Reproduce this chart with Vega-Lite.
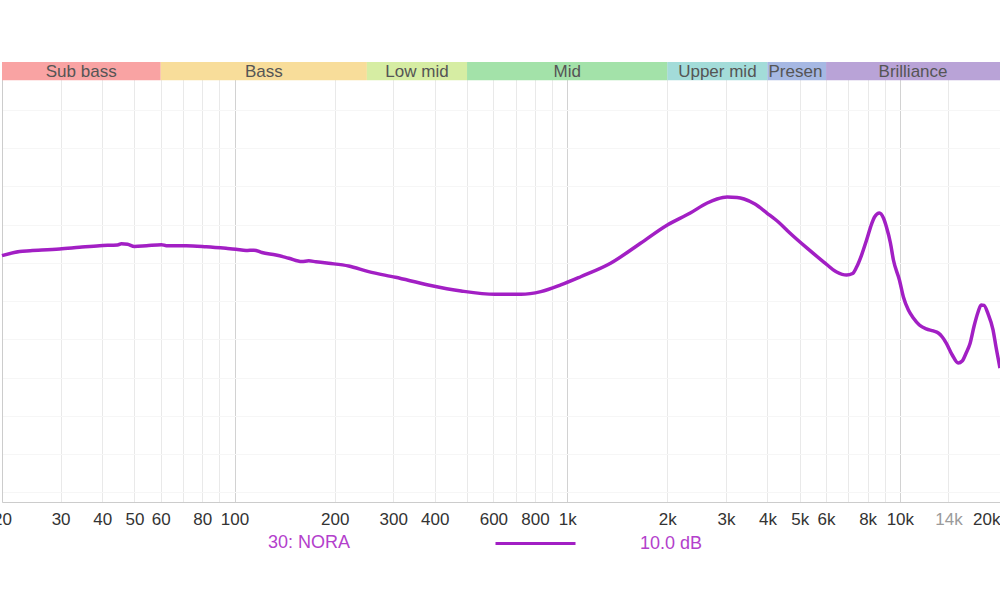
{
  "$schema": "https://vega.github.io/schema/vega-lite/v6.json",
  "width": 998,
  "height": 440,
  "autosize": {"type": "none"},
  "padding": {"left": 2, "top": 62, "right": 0, "bottom": 98},
  "background": "white",
  "config": {"view": {"stroke": null}, "font": "Liberation Sans"},
  "datasets": {
    "bands": [
      {"band": "Sub bass", "lo": 20, "hi": 60, "mid": 34.6},
      {"band": "Bass", "lo": 60, "hi": 250, "mid": 122.5},
      {"band": "Low mid", "lo": 250, "hi": 500, "mid": 353.6},
      {"band": "Mid", "lo": 500, "hi": 2000, "mid": 1000},
      {"band": "Upper mid", "lo": 2000, "hi": 4000, "mid": 2828},
      {"band": "Presence", "lo": 4000, "hi": 6000, "mid": 4899},
      {"band": "Brilliance", "lo": 6000, "hi": 20000, "mid": 10954}
    ],
    "fr": [
      {"name": "NORA", "f": 20, "db": 25.75},
      {"name": "NORA", "f": 22.6, "db": 26.2},
      {"name": "NORA", "f": 24.3, "db": 26.27},
      {"name": "NORA", "f": 29.8, "db": 26.45},
      {"name": "NORA", "f": 34.2, "db": 26.63},
      {"name": "NORA", "f": 39.3, "db": 26.8},
      {"name": "NORA", "f": 44.5, "db": 26.87},
      {"name": "NORA", "f": 45.7, "db": 27.0},
      {"name": "NORA", "f": 47.7, "db": 26.95},
      {"name": "NORA", "f": 50, "db": 26.72},
      {"name": "NORA", "f": 54.4, "db": 26.8},
      {"name": "NORA", "f": 60.3, "db": 26.9},
      {"name": "NORA", "f": 62.4, "db": 26.8},
      {"name": "NORA", "f": 71.6, "db": 26.8},
      {"name": "NORA", "f": 82.2, "db": 26.69},
      {"name": "NORA", "f": 94.3, "db": 26.52},
      {"name": "NORA", "f": 101, "db": 26.42},
      {"name": "NORA", "f": 108.3, "db": 26.29},
      {"name": "NORA", "f": 114.4, "db": 26.33},
      {"name": "NORA", "f": 120.9, "db": 26.08},
      {"name": "NORA", "f": 133.2, "db": 25.82},
      {"name": "NORA", "f": 145.7, "db": 25.48},
      {"name": "NORA", "f": 159.3, "db": 25.14},
      {"name": "NORA", "f": 167.1, "db": 25.21},
      {"name": "NORA", "f": 175.5, "db": 25.12},
      {"name": "NORA", "f": 191.9, "db": 24.96},
      {"name": "NORA", "f": 220.3, "db": 24.67},
      {"name": "NORA", "f": 252.9, "db": 24.08},
      {"name": "NORA", "f": 304.6, "db": 23.49},
      {"name": "NORA", "f": 382.3, "db": 22.69},
      {"name": "NORA", "f": 480, "db": 22.06},
      {"name": "NORA", "f": 606.8, "db": 21.71},
      {"name": "NORA", "f": 725.8, "db": 21.71},
      {"name": "NORA", "f": 833.4, "db": 21.99},
      {"name": "NORA", "f": 956.4, "db": 22.69},
      {"name": "NORA", "f": 1097.8, "db": 23.55},
      {"name": "NORA", "f": 1350, "db": 24.96},
      {"name": "NORA", "f": 1660.8, "db": 27.05},
      {"name": "NORA", "f": 2000, "db": 28.96},
      {"name": "NORA", "f": 2344, "db": 30.21},
      {"name": "NORA", "f": 2636, "db": 31.26},
      {"name": "NORA", "f": 2822, "db": 31.68},
      {"name": "NORA", "f": 3024, "db": 31.89},
      {"name": "NORA", "f": 3240, "db": 31.84},
      {"name": "NORA", "f": 3402, "db": 31.68},
      {"name": "NORA", "f": 3668, "db": 31.15},
      {"name": "NORA", "f": 3985, "db": 30.21},
      {"name": "NORA", "f": 4329, "db": 29.22},
      {"name": "NORA", "f": 4670, "db": 28.12},
      {"name": "NORA", "f": 5252, "db": 26.56},
      {"name": "NORA", "f": 5906, "db": 25.09},
      {"name": "NORA", "f": 6457, "db": 24.05},
      {"name": "NORA", "f": 6918, "db": 23.73},
      {"name": "NORA", "f": 7212, "db": 23.89},
      {"name": "NORA", "f": 7414, "db": 24.57},
      {"name": "NORA", "f": 7672, "db": 25.82},
      {"name": "NORA", "f": 7942, "db": 27.39},
      {"name": "NORA", "f": 8222, "db": 29.06},
      {"name": "NORA", "f": 8392, "db": 29.8},
      {"name": "NORA", "f": 8684, "db": 30.21},
      {"name": "NORA", "f": 8926, "db": 29.69},
      {"name": "NORA", "f": 9114, "db": 28.75},
      {"name": "NORA", "f": 9368, "db": 27.08},
      {"name": "NORA", "f": 9564, "db": 25.3},
      {"name": "NORA", "f": 9970, "db": 23.21},
      {"name": "NORA", "f": 10248, "db": 21.43},
      {"name": "NORA", "f": 10608, "db": 20.07},
      {"name": "NORA", "f": 10978, "db": 19.24},
      {"name": "NORA", "f": 11446, "db": 18.51},
      {"name": "NORA", "f": 12006, "db": 18.09},
      {"name": "NORA", "f": 12604, "db": 17.88},
      {"name": "NORA", "f": 13048, "db": 17.67},
      {"name": "NORA", "f": 13412, "db": 17.25},
      {"name": "NORA", "f": 13786, "db": 16.62},
      {"name": "NORA", "f": 14372, "db": 15.37},
      {"name": "NORA", "f": 14976, "db": 14.53},
      {"name": "NORA", "f": 15392, "db": 14.74},
      {"name": "NORA", "f": 15822, "db": 15.58},
      {"name": "NORA", "f": 16264, "db": 16.6},
      {"name": "NORA", "f": 16718, "db": 18.4},
      {"name": "NORA", "f": 17184, "db": 19.86},
      {"name": "NORA", "f": 17546, "db": 20.6},
      {"name": "NORA", "f": 17908, "db": 20.55},
      {"name": "NORA", "f": 18416, "db": 19.66},
      {"name": "NORA", "f": 19058, "db": 18.0},
      {"name": "NORA", "f": 19456, "db": 16.2},
      {"name": "NORA", "f": 20000, "db": 14.0}
    ]
  },
  "layer": [
    {
      "data": {"name": "bands"},
      "mark": {"type": "rect"},
      "encoding": {
        "x": {
          "field": "lo", "type": "quantitative", "title": null,
          "scale": {"type": "log", "domain": [20, 20000], "nice": false},
          "axis": {
            "values": [20, 30, 40, 50, 60, 70, 80, 90, 100, 200, 300, 400, 500, 600, 700, 800, 900, 1000, 2000, 3000, 4000, 5000, 6000, 7000, 8000, 9000, 10000, 14000, 20000],
            "labelExpr": "indexof([20,30,40,50,60,80,100,200,300,400,600,800,1000,2000,3000,4000,5000,6000,8000,10000,14000,20000], datum.value) >= 0 ? (datum.value >= 1000 ? (datum.value / 1000) + 'k' : '' + datum.value) : ''",
            "labelOverlap": false,
            "labelFontSize": 17,
            "labelFont": "Liberation Sans",
            "labelColor": {"condition": {"test": "datum.value == 14000", "value": "#9a9a9a"}, "value": "#333333"},
            "labelAlign": {"condition": {"test": "datum.value == 20000", "value": "right"}, "value": "center"},
            "labelPadding": 9,
            "ticks": false,
            "tickSize": 0,
            "domainColor": "#cccccc",
            "grid": true,
            "gridColor": {"condition": {"test": "datum.value == 100 || datum.value == 1000 || datum.value == 10000", "value": "#d2d2d2"}, "value": "#e9e9e9"},
            "title": null
          }
        },
        "x2": {"field": "hi"},
        "y": {
          "datum": 44.1, "type": "quantitative", "title": null,
          "scale": {"domain": [0, 46], "nice": false, "zero": false},
          "axis": {
            "values": [1,2,3,4,5,6,7,8,9,10,11,12,13,14,15,16,17,18,19,20,21,22,23,24,25,26,27,28,29,30,31,32,33,34,35,36,37,38,39,40,41,42,43,44],
            "labels": false,
            "ticks": false,
            "domainColor": "#cccccc",
            "grid": true,
            "gridColor": {"condition": {"test": "datum.value % 2 == 1", "value": "#f6f6f6"}, "value": "#ededed"},
            "title": null
          }
        },
        "y2": {"datum": 46},
        "fill": {
          "field": "band", "type": "nominal", "legend": null,
          "scale": {
            "domain": ["Sub bass", "Bass", "Low mid", "Mid", "Upper mid", "Presence", "Brilliance"],
            "range": ["#f9a3a3", "#f8dd9a", "#d6eda3", "#a3e2a9", "#a3dcd9", "#a6b8e3", "#b9a3d7"]
          }
        }
      }
    },
    {
      "data": {"name": "bands"},
      "transform": [{"filter": "datum.band != 'Presence'"}],
      "mark": {"type": "text", "fontSize": 17, "font": "Liberation Sans", "color": "#555555", "baseline": "middle", "align": "center"},
      "encoding": {
        "x": {"field": "mid", "type": "quantitative", "title": null, "scale": {"type": "log", "domain": [20, 20000], "nice": false}},
        "y": {"datum": 44.95, "type": "quantitative", "title": null, "scale": {"domain": [0, 46], "nice": false, "zero": false}},
        "text": {"field": "band"}
      }
    },
    {
      "data": {"name": "bands"},
      "transform": [{"filter": "datum.band == 'Presence'"}],
      "mark": {"type": "text", "fontSize": 17, "font": "Liberation Sans", "color": "#555555", "baseline": "middle", "align": "left", "dx": 1, "limit": 60, "ellipsis": "\u200b"},
      "encoding": {
        "x": {"field": "lo", "type": "quantitative", "title": null, "scale": {"type": "log", "domain": [20, 20000], "nice": false}},
        "y": {"datum": 44.95, "type": "quantitative", "title": null, "scale": {"domain": [0, 46], "nice": false, "zero": false}},
        "text": {"field": "band"}
      }
    },
    {
      "data": {"name": "fr"},
      "mark": {"type": "line", "strokeWidth": 3.5, "interpolate": "monotone"},
      "encoding": {
        "x": {"field": "f", "type": "quantitative", "title": null, "scale": {"type": "log", "domain": [20, 20000], "nice": false}},
        "y": {"field": "db", "type": "quantitative", "title": null, "scale": {"domain": [0, 46], "nice": false, "zero": false}},
        "color": {
          "field": "name", "type": "nominal",
          "scale": {"domain": ["NORA"], "range": ["#a21fc4"]},
          "legend": {
            "orient": "none",
            "legendX": 266,
            "legendY": 440,
            "title": "30: NORA",
            "titleOrient": "left",
            "titleAnchor": "middle",
            "titleBaseline": "line-top",
            "titleLineHeight": 32,
            "titleColor": "#b340cc",
            "titleFontSize": 18,
            "titleFontWeight": "normal",
            "titleFont": "Liberation Sans",
            "titlePadding": 143,
            "labelExpr": "'10.0 dB'",
            "labelColor": "#b340cc",
            "labelFontSize": 18,
            "labelFont": "Liberation Sans",
            "labelOffset": 63,
            "symbolType": "stroke",
            "symbolSize": 6400,
            "symbolStrokeWidth": 3
          }
        }
      }
    }
  ]
}
